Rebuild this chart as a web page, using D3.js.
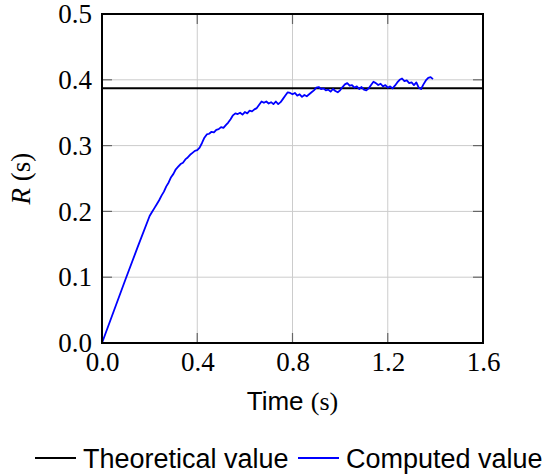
<!DOCTYPE html>
<html>
<head>
<meta charset="utf-8">
<script src="https://cdn.jsdelivr.net/npm/d3@7"></script>
<style>
body { margin: 0; background: #fff; }
svg { display: block; }
.tick-label { font-family: "Liberation Serif", serif; font-size: 27px; fill: #000; }
</style>
</head>
<body>
<div id="chart"></div>
<script>
// data
var xTicks = [0.0, 0.4, 0.8, 1.2, 1.6];
var yTicks = [0.0, 0.1, 0.2, 0.3, 0.4, 0.5];
var theoretical = 0.387;
var time = [0, 0.05, 0.10, 0.15, 0.20, 0.21, 0.22, 0.23, 0.24, 0.25, 0.26, 0.27, 0.28, 0.29,
    0.30, 0.31, 0.32, 0.33, 0.34, 0.35, 0.36, 0.37, 0.38, 0.39,
    0.40, 0.41, 0.42, 0.43, 0.44, 0.45, 0.46, 0.47, 0.48, 0.49,
    0.50, 0.51, 0.52, 0.53, 0.54, 0.55, 0.56, 0.57, 0.58, 0.59,
    0.60, 0.61, 0.62, 0.63, 0.64, 0.65, 0.66, 0.67, 0.68, 0.69,
    0.70, 0.71, 0.72, 0.73, 0.74, 0.75, 0.76, 0.77, 0.78, 0.79,
    0.80, 0.81, 0.82, 0.83, 0.84, 0.85, 0.86, 0.87, 0.88, 0.89,
    0.90, 0.91, 0.92, 0.93, 0.94, 0.95, 0.96, 0.97, 0.98, 0.99,
    1.00, 1.01, 1.02, 1.03, 1.04, 1.05, 1.06, 1.07, 1.08, 1.09,
    1.10, 1.11, 1.12, 1.13, 1.14, 1.15, 1.16, 1.17, 1.18, 1.19,
    1.20, 1.21, 1.22, 1.23, 1.24, 1.25, 1.26, 1.27, 1.28, 1.29,
    1.30, 1.31, 1.32, 1.33, 1.34, 1.35, 1.36, 1.37, 1.38, 1.39];
var computed = [0, 0.049, 0.098, 0.146, 0.193, 0.199, 0.205, 0.211, 0.217, 0.224, 0.230, 0.238, 0.244, 0.252,
    0.257, 0.264, 0.268, 0.272, 0.274, 0.279, 0.282, 0.286, 0.289, 0.292,
    0.293, 0.297, 0.304, 0.312, 0.317, 0.318, 0.321, 0.320, 0.324, 0.325,
    0.328, 0.327, 0.331, 0.335, 0.340, 0.346, 0.349, 0.348, 0.350, 0.347,
    0.351, 0.349, 0.353, 0.352, 0.355, 0.357, 0.362, 0.367, 0.365, 0.367,
    0.364, 0.366, 0.363, 0.367, 0.363, 0.366, 0.371, 0.376, 0.381, 0.380,
    0.378, 0.380, 0.376, 0.378, 0.374, 0.377, 0.375, 0.378, 0.381, 0.384,
    0.388, 0.389, 0.386, 0.387, 0.384, 0.385, 0.382, 0.386, 0.383, 0.381,
    0.384, 0.389, 0.393, 0.395, 0.391, 0.392, 0.388, 0.390, 0.386, 0.389,
    0.385, 0.384, 0.387, 0.392, 0.397, 0.395, 0.392, 0.394, 0.390, 0.392,
    0.388, 0.390, 0.387, 0.391, 0.396, 0.400, 0.402, 0.398, 0.399, 0.395,
    0.396, 0.392, 0.396, 0.388, 0.386, 0.393, 0.399, 0.403, 0.404, 0.401];

var width = 545, height = 475;
var margin = {left: 102, right: 62, top: 14, bottom: 132};
var svg = d3.select("#chart").append("svg")
    .attr("width", width)
    .attr("height", height);

var x = d3.scaleLinear().domain([0, 1.6]).range([margin.left, width - margin.right]);
var y = d3.scaleLinear().domain([0, 0.5]).range([height - margin.bottom, margin.top]);

// grid
svg.append("g").selectAll("line").data(xTicks.slice(1, -1)).join("line")
    .attr("x1", d => x(d)).attr("x2", d => x(d))
    .attr("y1", y(0)).attr("y2", y(0.5))
    .style("stroke", "#cccccc").style("stroke-width", 1);
svg.append("g").selectAll("line").data(yTicks.slice(1, -1)).join("line")
    .attr("x1", x(0)).attr("x2", x(1.6))
    .attr("y1", d => y(d)).attr("y2", d => y(d))
    .style("stroke", "#cccccc").style("stroke-width", 1);

// tick marks, inside on every side
var tl = 10;
var tg = svg.append("g").style("stroke", "#666").style("stroke-width", 1.2);
xTicks.forEach(function(d) {
    tg.append("line").attr("x1", x(d)).attr("x2", x(d)).attr("y1", y(0)).attr("y2", y(0) - tl);
    tg.append("line").attr("x1", x(d)).attr("x2", x(d)).attr("y1", y(0.5)).attr("y2", y(0.5) + tl);
});
yTicks.forEach(function(d) {
    tg.append("line").attr("x1", x(0)).attr("x2", x(0) + tl).attr("y1", y(d)).attr("y2", y(d));
    tg.append("line").attr("x1", x(1.6)).attr("x2", x(1.6) - tl).attr("y1", y(d)).attr("y2", y(d));
});

// tick labels via d3 axes, with lines hidden
var xAxis = svg.append("g")
    .attr("transform", "translate(0," + y(0) + ")")
    .call(d3.axisBottom(x).tickValues(xTicks).tickFormat(d3.format(".1f")).tickSize(0).tickPadding(8));
var yAxis = svg.append("g")
    .attr("transform", "translate(" + x(0) + ",0)")
    .call(d3.axisLeft(y).tickValues(yTicks).tickFormat(d3.format(".1f")).tickSize(0).tickPadding(10));
[xAxis, yAxis].forEach(function(a) {
    a.select(".domain").remove();
    a.selectAll("text").attr("class", "tick-label").attr("font-family", null).attr("font-size", null);
});
xAxis.selectAll("text").attr("dy", "0.75em");

// theoretical value
svg.append("line")
    .attr("x1", x(0)).attr("x2", x(1.6))
    .attr("y1", y(theoretical)).attr("y2", y(theoretical))
    .style("stroke", "#000").style("stroke-width", 2);

// computed curve
var pts = time.map((t, i) => [t, computed[i]]);
svg.append("path")
    .datum(pts)
    .attr("d", d3.line().x(d => x(d[0])).y(d => y(d[1])))
    .style("fill", "none")
    .style("stroke", "#0000ff")
    .style("stroke-width", 1.8)
    .style("stroke-linejoin", "round");

// frame
svg.append("rect")
    .attr("x", x(0)).attr("y", y(0.5))
    .attr("width", x(1.6) - x(0)).attr("height", y(0) - y(0.5))
    .style("fill", "none").style("stroke", "#000").style("stroke-width", 2);

// axis titles
var xt = svg.append("text")
    .attr("x", (x(0) + x(1.6)) / 2).attr("y", 410)
    .attr("text-anchor", "middle")
    .style("font-size", "26px");
xt.append("tspan").style("font-family", "Liberation Sans, sans-serif").text("Time ");
xt.append("tspan").style("font-family", "Liberation Serif, serif").text("(s)");

var yt = svg.append("text")
    .attr("transform", "translate(30," + (y(0) + y(0.5)) / 2 + ") rotate(-90)")
    .attr("text-anchor", "middle")
    .style("font-size", "27px")
    .style("font-family", "Liberation Serif, serif");
yt.append("tspan").style("font-style", "italic").text("R");
yt.append("tspan").text(" (s)");

// legend
var legend = [
    {name: "Theoretical value", color: "#000", x0: 35},
    {name: "Computed value", color: "#0000ff", x0: 298}
];
var lg = svg.append("g");
legend.forEach(function(d) {
    lg.append("line")
        .attr("x1", d.x0).attr("x2", d.x0 + 41)
        .attr("y1", 458).attr("y2", 458)
        .style("stroke", d.color).style("stroke-width", 2);
    lg.append("text")
        .attr("x", d.x0 + 48).attr("y", 468)
        .style("font-family", "Liberation Sans, sans-serif")
        .style("font-size", "27px")
        .text(d.name);
});
</script>
</body>
</html>
